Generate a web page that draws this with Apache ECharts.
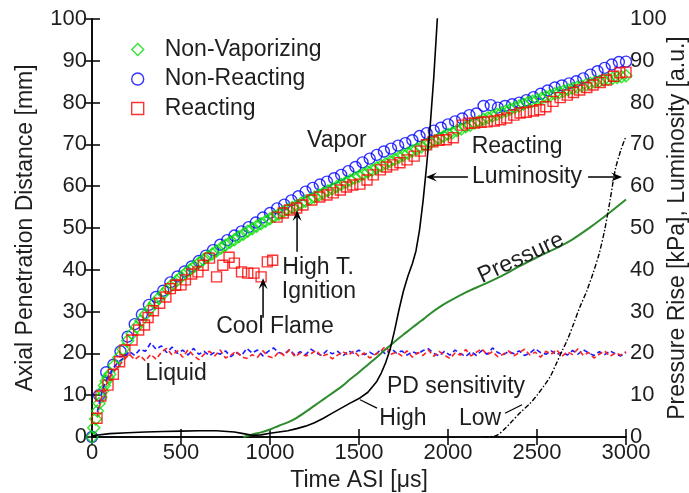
<!DOCTYPE html>
<html><head><meta charset="utf-8">
<script src="https://cdn.jsdelivr.net/npm/echarts@6/dist/echarts.min.js"></script>
<style>html,body{margin:0;padding:0;background:#fff}#c{width:689px;height:493px}</style>
</head><body><div id="c"></div>
<script>
const FONT = '"Liberation Sans", Arial, sans-serif';
const TXT = '#1e1e1e';

// ---- Non-Vaporizing (green diamonds)
const nonVapTime = [0,10,20,30,40,50,60,70,80,90,100,125,150,175,200,225,250,275,300,325,350,375,400,425,450,475,500,525,550,575,600,625,650,675,700,725,750,775,800,825,850,875,900,925,950,975,1000,1025,1050,1075,1100,1125,1150,1175,1200,1225,1250,1275,1300,1325,1350,1375,1400,1425,1450,1475,1500,1525,1550,1575,1600,1625,1650,1675,1700,1725,1750,1775,1800,1825,1850,1875,1900,1925,1950,1975,2000,2025,2050,2075,2100,2125,2150,2175,2200,2225,2250,2275,2300,2325,2350,2375,2400,2425,2450,2475,2500,2525,2550,2575,2600,2625,2650,2675,2700,2725,2750,2775,2800,2825,2850,2875,2900,2925,2950,2975,3000];
const nonVapValue = [0,2.2,4.3,6.2,8.0,9.5,11.0,12.3,13.4,14.3,15.0,17.1,19.0,21.0,23.0,24.7,26.3,27.8,29.3,30.7,32.0,33.2,34.3,35.4,36.4,37.4,38.3,39.2,40.0,40.8,41.6,42.4,43.1,43.8,44.5,45.2,45.9,46.6,47.2,47.9,48.5,49.2,49.8,50.4,51.0,51.6,52.2,52.8,53.3,53.9,54.4,54.9,55.4,55.9,56.4,56.9,57.4,57.9,58.4,58.9,59.4,59.9,60.4,60.9,61.4,61.9,62.4,62.9,63.4,63.9,64.4,64.9,65.4,65.9,66.4,66.9,67.4,67.9,68.4,68.9,69.4,69.9,70.4,70.9,71.4,71.9,72.4,72.8,73.3,73.7,74.2,74.6,75.1,75.5,76.0,76.4,76.8,77.2,77.6,78.0,78.4,78.8,79.2,79.6,80.0,80.3,80.7,81.0,81.4,81.7,82.1,82.4,82.8,83.1,83.4,83.7,84.0,84.3,84.6,84.9,85.1,85.4,85.6,85.8,86.0,86.2,86.4];

// ---- Non-Reacting (blue circles)
const nonReactTime = [0,40,80,120,160,200,240,280,320,360,400,440,480,520,560,600,640,680,720,760,800,840,880,920,960,1000,1040,1080,1120,1160,1200,1240,1280,1320,1360,1400,1440,1480,1520,1560,1600,1640,1680,1720,1760,1800,1840,1880,1920,1960,2000,2040,2080,2120,2160,2200,2240,2280,2320,2360,2400,2440,2480,2520,2560,2600,2640,2680,2720,2760,2800,2840,2880,2920,2960,3000];
const nonReactValue = [0,10,15.5,17.3,20.5,24,27,29.3,31.6,33.5,35,37,38.4,39.6,40.8,42.1,43.4,44.7,46,47.1,48.2,49.2,50.2,51.3,52.5,53.6,54.7,55.6,56.6,57.6,58.7,59.6,60.4,61.1,61.9,62.7,63.6,64.6,65.7,66.6,67.5,68.3,69,69.7,70.3,71,72,72.7,73.3,74,74.8,75.5,76.2,77,77.4,79.2,79.4,78.8,79.2,79.6,80,80.6,81.3,82.1,82.9,83.6,84.1,84.6,85.1,85.8,86.7,87.5,88.3,89.1,89.7,89.8];

// ---- Reacting (red squares)
const reactTime = [28,50,90,120,155,185,225,262,295,315,345,380,415,440,470,500,525,560,595,625,660,
  700,735,770,800,840,875,910,950,985,1015,
  1040,1075,1110,1150,1185,1235,1280,1320,1355,1395,1430,1465,1505,1545,1580,1620,1655,1690,1730,1770,1810,1845,1880,1915,1950,1990,2030,2080,2115,2150,2185,2220,2260,2295,2330,2370,2405,2440,2480,2515,2550,2590,2630,2670,2705,2740,2780,2815,2855,2890,2930,2965,3000];
const reactValue = [4.5,9.8,12.4,15,18,20.8,23.2,25.6,26.8,28.6,30.2,32,33.5,35.5,36.3,36.4,37.6,39,39.5,41.1,42.8,
  38.3,41.1,43,41.6,39.5,39.2,39.2,38.3,41.9,42.3,
  52.6,53.6,54.3,54.8,55.5,56.7,57.4,57.9,58.4,59.1,59.8,60.3,60.5,61.5,62.7,63.9,64.6,65.1,65.6,66.3,67.2,68.4,69.9,70.6,71,71.1,71.6,74.6,75.1,75.1,75.3,75.4,75.6,75.9,76.3,77,77.5,77.7,78,78.3,79,80.3,81.2,81.8,82.4,83,83.6,84.2,84.8,85.4,86.3,87.1,87.3];

// ---- Liquid length (dashed)
const liquidTime = [30,60,90,120,150,180,210,240,270,300,330,360,390,420,450,480,510,540,570,600,630,660,690,720,750,780,810,840,870,900,930,960,990,1020,1050,1080,1110,1140,1170,1200,1230,1260,1290,1320,1350,1380,1410,1440,1470,1500,1530,1560,1590,1620,1650,1680,1710,1740,1770,1800,1830,1860,1890,1920,1950,1980,2010,2040,2070,2100,2130,2160,2190,2220,2250,2280,2310,2340,2370,2400,2430,2460,2490,2520,2550,2580,2610,2640,2670,2700,2730,2760,2790,2820,2850,2880,2910,2940,2970,3000];
const liquidNonReact = [6,11.5,14.5,16.5,18,19,20.5,19.5,21,20.5,22.5,21,21.8,20.2,21.5,20,20.8,19.6,21.2,19.8,20.5,19.5,20.3,19.8,20.6,19.2,20.2,19.5,21.2,20.1,20.8,19.4,20.5,21.3,20.2,19.8,20.9,19.6,20.4,19.7,21,20.1,19.5,20.7,19.9,20.5,19.4,20.6,20.0,20.8,19.7,20.3,19.5,20.9,19.8,21.2,20.1,20.6,19.6,20.4,19.9,20.7,21.1,20,19.4,20.5,19.6,20.8,19.9,19.3,20.4,19.5,20.7,19.8,21.3,20.2,19.6,20.5,19.9,20.6,19.5,20.1,21.1,20.2,19.8,20.6,19.7,20.3,19.6,20.7,19.8,20.9,20.1,19.5,20.4,19.7,20.6,19.9,19.4,20.2];
const liquidReact = [5,10.5,13.5,15.5,17,18.5,19.8,18.5,19.5,18.2,19.8,18.6,20.3,21.2,19.6,20.6,19.1,20.9,19.5,18.5,19.8,20.5,19.4,20.8,18.9,19.6,20.5,19.2,18.8,19.7,19.1,20.6,19.3,18.9,20.4,19.5,20.9,19.2,20.1,19.4,19.9,20.7,19.3,19.8,18.7,19.6,20.4,19.5,20.6,19.3,20.1,18.9,19.7,20.5,21.7,19.8,20.3,19.4,20.6,19.1,20.2,19.5,20.8,19.3,20.5,19.6,18.8,20.1,19.6,20.9,19.4,20.3,21.1,19.7,20.4,19.2,19.8,20.6,19.4,20.2,21.0,19.6,20.3,19.1,20.5,19.8,20.9,19.3,20.4,19.7,21.1,19.5,20.2,18.9,19.8,20.6,19.3,20.1,19.6,20.4];

// ---- Luminosity, high PD sensitivity (solid black)
const lumHighTime = [0,100,200,300,400,500,600,700,800,850,900,950,1000,1050,1100,1150,1200,1250,1300,1350,1400,1450,1500,1550,1600,1625,1650,1675,1700,1725,1750,1775,1800,1820,1840,1860,1880,1900,1920,1940,1955];
const lumHighValue = [0.3,0.8,1,1.2,1.3,1.4,1.5,1.5,1.2,0.8,0.4,0.5,0.9,1.2,1.5,2,2.6,3.4,4.5,5.7,6.9,8.1,9.2,10.7,13.3,15.3,17.8,21,25.5,30.5,35,38.5,41.5,44.5,49.5,56.5,65,74.5,86,100,110];
// ---- Luminosity, low PD sensitivity (dash-dot black)
const lumLowTime = [2200,2270,2320,2365,2410,2460,2500,2535,2575,2610,2640,2670,2705,2740,2780,2815,2850,2880,2910,2940,2970,3000];
const lumLowValue = [0,0.3,2,4,6,8,10,12,14.5,17.7,20.5,23.2,27,31,35,39.2,44,49.5,56.5,64,68.5,72];
// ---- Pressure rise (dark green)
const pressureTime = [850,900,950,1000,1050,1100,1150,1200,1250,1300,1350,1400,1450,1500,1550,1600,1650,1700,1750,1800,1850,1900,1950,2000,2100,2200,2300,2400,2500,2600,2700,2800,2900,3000];
const pressureValue = [0,0.6,1.1,1.8,2.7,3.5,4.6,6,7.5,9,10.5,12,13.8,15.5,17.3,19.1,21,22.8,24.5,26.2,27.8,29.5,31,32.3,34.6,36.5,38.5,40.8,43,45,47.3,50.2,53.4,56.8];

// ---- annotations (data coordinates)
const noteTexts = ['Vapor','Reacting','Luminosity','High T.','Ignition','Cool Flame','Liquid','PD sensitivity','High','Low','Pressure'];
const noteTimes = [1376,2388,2444,1270,1275,1028,472,2045,1747,2180,2410];
const noteValues = [70.8,69.4,62.2,40.4,34.7,26.3,15.1,12.0,4.5,4.5,42.8];
const noteAngles = [0,0,0,0,0,0,0,0,0,0,25];
const arrowFrom = [[2112,62.2],[2787,62.2],[1152,44.3],[961,28.5]];
const arrowTo = [[1876,62.2],[2978,62.2],[1152,54.3],[961,38.0]];
const pointerFrom = [[1506,8.9],[2320,5.7]];
const pointerTo = [[1601,6.9],[2416,7.7]];

const zip = (t, v) => t.slice(0, Math.min(t.length, v.length)).map((x, i) => [x, v[i]]);

const chart = echarts.init(document.getElementById('c'), null, {renderer: 'canvas'});
const axisCommon = {
  type: 'value', min: 0, splitLine: {show: false},
  axisLine: {show: true, lineStyle: {color: '#000', width: 1.5}},
  axisTick: {show: true, inside: true, length: 8, lineStyle: {color: '#000', width: 1.5}},
  axisLabel: {fontSize: 22, color: TXT, fontFamily: FONT, formatter: (v) => String(v)},
  nameTextStyle: {fontSize: 23, color: TXT, fontFamily: FONT}
};
const hollow = (c) => ({color: 'rgba(255,255,255,0)', borderColor: c, borderWidth: 1.4});

chart.setOption({
  animation: false,
  backgroundColor: '#fff',
  grid: {left: 92, right: 63, top: 19, bottom: 56, containLabel: false, outerBoundsMode: 'none'},
  legend: {
    orient: 'vertical', left: 126, top: 33, itemGap: 6.5, itemWidth: 12, itemHeight: 12,
    data: ['Non-Vaporizing', 'Non-Reacting', 'Reacting'],
    textStyle: {fontSize: 23, color: TXT, fontFamily: FONT, padding: [0, 0, 0, 16]},
    itemStyle: {borderWidth: 1.4}
  },
  xAxis: [
    Object.assign({}, axisCommon, {position: 'bottom', max: 3000, interval: 500,
      name: 'Time ASI [μs]', nameLocation: 'middle', nameGap: 27,
      axisLabel: Object.assign({}, axisCommon.axisLabel, {margin: 5})}),
    Object.assign({}, axisCommon, {position: 'top', max: 3000, interval: 500,
      axisLabel: {show: false}})
  ],
  yAxis: [
    Object.assign({}, axisCommon, {position: 'left', max: 100, interval: 10,
      name: 'Axial Penetration Distance [mm]', nameLocation: 'middle', nameGap: 55, nameRotate: 90,
      axisLabel: Object.assign({}, axisCommon.axisLabel, {margin: 5})}),
    Object.assign({}, axisCommon, {position: 'right', max: 100, interval: 10,
      name: 'Pressure Rise [kPa], Luminosity [a.u.]', nameLocation: 'middle', nameGap: 40, nameRotate: 90,
      nameMoveOverlap: false,
      axisLabel: Object.assign({}, axisCommon.axisLabel, {margin: 4})})
  ],
  series: [
    {name: 'Non-Reacting', type: 'scatter', symbol: 'circle', symbolSize: 11,
      itemStyle: hollow('#0000ff'), data: zip(nonReactTime, nonReactValue)},
    {name: 'Non-Vaporizing', type: 'scatter', symbol: 'diamond', symbolSize: 12,
      itemStyle: hollow('#00e000'), data: zip(nonVapTime, nonVapValue)},
    {name: 'Reacting', type: 'scatter', symbol: 'rect', symbolSize: 10,
      itemStyle: hollow('#ff0000'), data: zip(reactTime, reactValue)},
    {name: 'Liquid NR', type: 'line', showSymbol: false, symbol: 'none',
      lineStyle: {color: '#1a1aff', width: 1.6, type: [5, 3]}, data: zip(liquidTime, liquidNonReact)},
    {name: 'Liquid R', type: 'line', showSymbol: false, symbol: 'none',
      lineStyle: {color: '#ff2020', width: 1.6, type: [5, 3]}, data: zip(liquidTime, liquidReact)},
    {name: 'Pressure', type: 'line', yAxisIndex: 1, showSymbol: false, symbol: 'none', smooth: 0.3,
      lineStyle: {color: '#2e8b2e', width: 2}, data: zip(pressureTime, pressureValue)},
    {name: 'Lum High', type: 'line', yAxisIndex: 1, showSymbol: false, symbol: 'none',
      lineStyle: {color: '#000', width: 1.6}, data: zip(lumHighTime, lumHighValue)},
    {name: 'Lum Low', type: 'line', yAxisIndex: 1, showSymbol: false, symbol: 'none', smooth: 0.3,
      lineStyle: {color: '#000', width: 1.4, type: [5, 2, 1.5, 2]}, data: zip(lumLowTime, lumLowValue)}
  ]
});

function px(p) { return chart.convertToPixel({xAxisIndex: 0, yAxisIndex: 0}, p); }
const g = [];
noteTexts.forEach((t, i) => {
  const p = px([noteTimes[i], noteValues[i]]);
  g.push({type: 'text', x: p[0], y: p[1], rotation: noteAngles[i] * Math.PI / 180, z: 100,
    style: {text: t, fontSize: 23, fill: TXT, fontFamily: FONT, align: 'center', verticalAlign: 'middle'}});
});
function arrow(a, b) {
  const A = px(a), B = px(b);
  const dx = B[0] - A[0], dy = B[1] - A[1], L = Math.hypot(dx, dy);
  const ux = dx / L, uy = dy / L, nx = -uy, ny = ux;
  const hl = 11, hw = 4.5;
  g.push({type: 'line', z: 100, shape: {x1: A[0], y1: A[1], x2: B[0] - ux * 4, y2: B[1] - uy * 4},
    style: {stroke: '#000', lineWidth: 1.5}});
  g.push({type: 'polygon', z: 100, shape: {points: [
    [B[0], B[1]],
    [B[0] - ux * hl + nx * hw, B[1] - uy * hl + ny * hw],
    [B[0] - ux * hl * 0.6, B[1] - uy * hl * 0.6],
    [B[0] - ux * hl - nx * hw, B[1] - uy * hl - ny * hw]]},
    style: {fill: '#000'}});
}
arrowFrom.forEach((a, i) => arrow(a, arrowTo[i]));
pointerFrom.forEach((a, i) => {
  const A = px(a), B = px(pointerTo[i]);
  g.push({type: 'line', z: 100, shape: {x1: A[0], y1: A[1], x2: B[0], y2: B[1]}, style: {stroke: '#000', lineWidth: 1.2}});
});
chart.setOption({graphic: g});
</script>
</body></html>
